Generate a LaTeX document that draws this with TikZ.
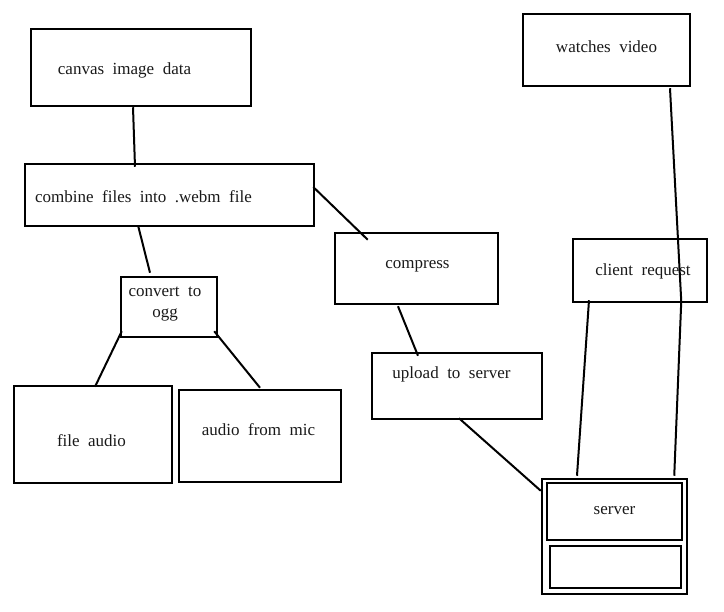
\documentclass[tikz,border=0pt]{standalone}
\usepackage{fontspec}
\setmainfont{Liberation Serif}[WordSpace={2,1,1}]
\usetikzlibrary{calc}
\begin{document}
\begin{tikzpicture}[x=1pt,y=-1pt,
  box/.style={draw=black, line width=2.5pt, rectangle, inner sep=0pt},
  txt/.style={font=\fontsize{17}{21}\selectfont, inner sep=0pt, text=black!90, yshift=-1.5pt},
  link/.style={draw=black, line width=2pt}]
\useasboundingbox (0,0) rectangle (724,612);
% boxes
\node[box, minimum width=220pt, minimum height=77pt] (canvas) at (141,67.5) {};
\node[box, minimum width=289pt, minimum height=62pt] (combine) at (169.5,195) {};
\node[box, minimum width=96pt, minimum height=60pt] (convert) at (169,307) {};
\node[box, minimum width=158pt, minimum height=97pt] (file) at (93,434.5) {};
\node[box, minimum width=162pt, minimum height=92pt] (mic) at (260,436) {};
\node[box, minimum width=163pt, minimum height=71pt] (compress) at (416.5,268.5) {};
\node[box, minimum width=170pt, minimum height=66pt] (upload) at (457,386) {};
\node[box, minimum width=167pt, minimum height=72pt] (watches) at (606.5,50) {};
\node[box, minimum width=134pt, minimum height=63pt] (client) at (640,270.5) {};
\node[box, minimum width=145pt, minimum height=115pt] (server) at (614.5,536.5) {};
\node[box, minimum width=135pt, minimum height=57pt] (serverin) at (614.5,511.5) {};
\node[box, minimum width=131pt, minimum height=42pt] (serverlow) at (615.5,567) {};
% texts
\node[txt] (t1) at (124.5,69) {canvas image data};
\node[txt] (t2) at (143.5,195) {combine files into .webm file};
\node[txt, align=center] (t3) at (165,303) {convert to\\ogg};
\node[txt] (t4) at (91.5,439) {file audio};
\node[txt] (t5) at (258.5,428) {audio from mic};
\node[txt] (t6) at (417.5,265) {compress};
\node[txt] (t7) at (451.5,373) {upload to server};
\node[txt] (t8) at (606.5,45) {watches video};
\node[txt] (t9) at (643,270) {client request};
\node[txt] (t10) at (614.5,509) {server};
% connectors
\draw[link] ([shift={(-8,0)}]canvas.south) -- ([shift={(-34.5,4)}]combine.north);
\draw[link] ([shift={(-31.5,-2)}]combine.south) -- ([shift={(-19,-3)}]convert.north);
\draw[link] ([shift={(2,-7)}]convert.south west) -- ([shift={(2,2)}]file.north);
\draw[link] ([shift={(-4,-7)}]convert.south east) -- ([shift={(0,-1)}]mic.north);
\draw[link] ([shift={(-2,-8)}]combine.east) -- ([shift={(34,8)}]compress.north west);
\draw[link] ([shift={(-18.5,1)}]compress.south) -- ([shift={(-39,4)}]upload.north);
\draw[link] ([shift={(2,-2)}]upload.south) -- ([shift={(0,13)}]server.north west);
\draw[link] ([shift={(-51,-3)}]client.south) -- ([shift={(-37.5,-2)}]server.north);
\coordinate (bend) at ([shift={(-27,-2)}]client.south east);
\draw[link] ([shift={(63.5,1)}]watches.south) -- (bend) -- ([shift={(-14,-2)}]server.north east);
\end{tikzpicture}
\end{document}
